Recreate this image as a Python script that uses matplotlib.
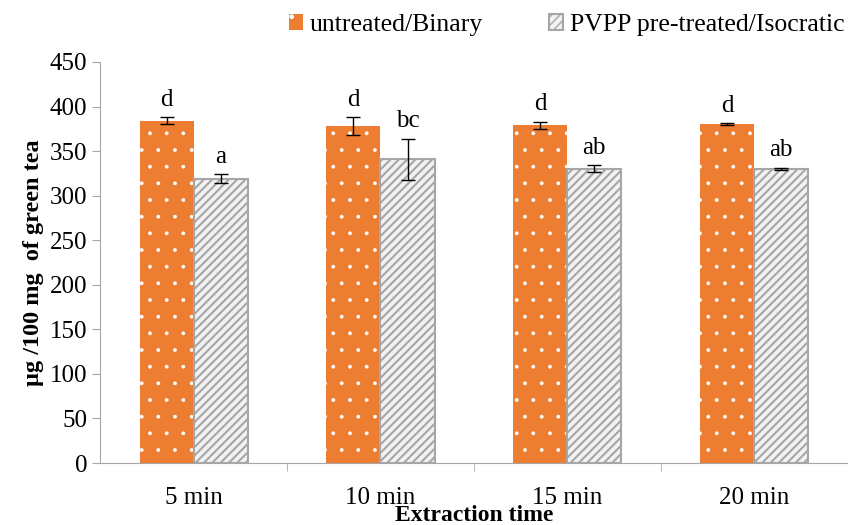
import numpy as np
import matplotlib.pyplot as plt

plt.rcParams['font.family'] = ['Liberation Serif', 'DejaVu Serif']

categories = ['5 min', '10 min', '15 min', '20 min']
untreated = [384, 378, 379, 380]
untreated_err = [4, 10, 4, 1]
pvpp = [319, 341, 330, 330]
pvpp_err = [5, 23, 4, 1.5]
letters_untreated = ['d', 'd', 'd', 'd']
letters_pvpp = ['a', 'bc', 'ab', 'ab']

fig = plt.figure(figsize=(8.5, 5.25), dpi=100)
ax = fig.add_axes([0.118, 0.118, 0.879, 0.764])

x = np.arange(len(categories))
w = 0.29
with plt.rc_context({'hatch.linewidth': 0.3}):
    ax.bar(x - w/2, untreated, w, color='#ed7d31', edgecolor='white', hatch='.', linewidth=0,
           label='untreated/Binary')
with plt.rc_context({'hatch.linewidth': 1.5}):
    ax.bar(x + w/2, pvpp, w, color='#f2f2f2', edgecolor='#a6a6a6', hatch='////', linewidth=1.5,
           label='PVPP pre-treated/Isocratic')
ax.errorbar(x - w/2, untreated, yerr=untreated_err, fmt='none', ecolor='black', elinewidth=1, capsize=5, capthick=1)
ax.errorbar(x + w/2, pvpp, yerr=pvpp_err, fmt='none', ecolor='black', elinewidth=1, capsize=5, capthick=1)

for i in range(len(categories)):
    ax.text(x[i] - w/2, untreated[i] + untreated_err[i] + 7, letters_untreated[i], ha='center', va='bottom', fontsize=18)
    ax.text(x[i] + w/2, pvpp[i] + pvpp_err[i] + 7, letters_pvpp[i], ha='center', va='bottom', fontsize=18)

ax.set_ylim(0, 450)
ax.set_yticks(np.arange(0, 451, 50))
ax.set_xlim(-0.5, len(categories) - 0.5)
ax.set_xticks(x)
ax.set_xticklabels(categories, fontsize=18)
ax.set_xticks(np.arange(0.5, len(categories) - 0.5, 1), minor=True)
ax.tick_params(axis='x', which='major', length=0, pad=17)
ax.tick_params(axis='x', which='minor', length=6, color='#a6a6a6', direction='out')
ax.tick_params(axis='y', labelsize=18, length=6, color='#a6a6a6')
for s in ['top', 'right']:
    ax.spines[s].set_visible(False)
for s in ['left', 'bottom']:
    ax.spines[s].set_color('#a6a6a6')

ax.set_ylabel('µg /100 mg  of green tea', fontsize=17.5, fontweight='bold', labelpad=4)
ax.set_xlabel('Extraction time', fontsize=17, fontweight='bold', va='center')
ax.xaxis.set_label_coords(0.5, -0.132)

ax.legend(loc='lower right', bbox_to_anchor=(1.02, 1.02), ncol=2, frameon=False, fontsize=18.5,
          handlelength=0.55, handleheight=0.55, handletextpad=0.25, columnspacing=2.6, borderaxespad=0.3)

fig.savefig('out.png', dpi=100)
